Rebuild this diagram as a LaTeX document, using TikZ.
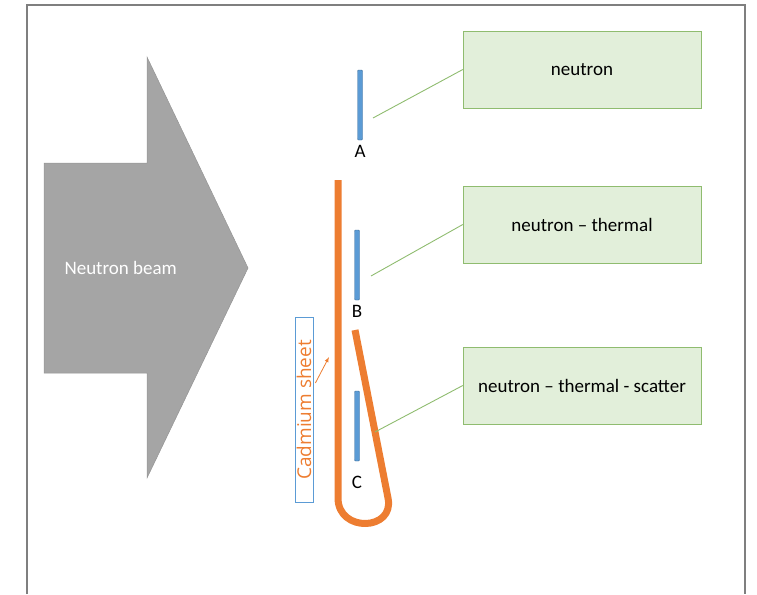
\documentclass[tikz,border=0pt]{standalone}
\usepackage{fontspec}
\setmainfont{Carlito}
\newfontfamily\sheetfont{Open Sans}
\usepackage{xcolor}
\usetikzlibrary{shapes,arrows,positioning,calc}

\definecolor{beamgray}{HTML}{A5A5A5}
\definecolor{cdorange}{HTML}{ED7D31}
\definecolor{detblue}{HTML}{5B9BD5}
\definecolor{detedge}{HTML}{41719C}
\definecolor{boxgreen}{HTML}{E2EFDA}
\definecolor{boxedge}{HTML}{8FBC6F}
\definecolor{frame}{HTML}{7F7F7F}

\begin{document}
\begin{tikzpicture}[
    x=1pt, y=-1pt,
    font=\fontsize{19}{22}\selectfont,
    label/.style={draw=boxedge, fill=boxgreen, rectangle, minimum width=238pt, minimum height=77pt, align=center},
    detector/.style={rectangle, fill=detblue, draw=detedge, line width=0.4pt, minimum width=5pt, minimum height=70pt, inner sep=0pt, rounded corners=1pt},
    link/.style={draw=boxedge, line width=0.9pt},
    arrow/.style={-latex, cdorange, line width=0.8pt}
]
\useasboundingbox (0,0) rectangle (757,594);

% Frame
\draw[frame, line width=1.2pt] (27,594) -- (27,5) -- (745,5) -- (745,594);

% Beam arrow
\fill[beamgray, draw=beamgray!90!black, line width=0.5pt] (44,163) -- (147,163) -- (147,57) -- (248,268) -- (147,478) -- (147,373) -- (44,373) -- cycle;
\node[white, anchor=west] (beam) at (61,268) {Neutron beam};

% Detectors
\node[detector] (detA) at (360,105) {};
\node[detector] (detB) at (357,265) {};
\node[detector] (detC) at (357,426) {};
\node[below=2pt of detA] (nameA) {A};
\node[below=2pt of detB] (nameB) {B};
\node[below=11pt of detC] (nameC) {C};

% Cadmium sheet
\draw[cdorange, line width=7pt, line join=round] (338,180) -- (338,498) .. controls (338,533) and (395,531) .. (388,498) -- (355,330);
\node[draw=detblue, line width=0.8pt, rotate=90, minimum width=185pt, minimum height=18pt, inner sep=0pt, text=cdorange, font=\sheetfont\fontsize{19}{20}\selectfont] (cadmium) at (304,410) {Cadmium sheet};
\coordinate (cdtip) at (329,357);
\draw[arrow] ([xshift=2pt,yshift=27pt]cadmium.south) -- (cdtip);

% Labels (Right side)
\node[label] (neutron) at (582,69.5) {neutron};
\node[label] (thermal) at (582,224.5) {neutron -- thermal};
\node[label] (scatter) at (582,385.5) {neutron -- thermal - scatter};

% Links
\coordinate (linkA) at (373,118);
\coordinate (linkB) at (371,276);
\coordinate (linkC) at (375,432);
\draw[link] (linkA) -- (neutron.west);
\draw[link] (linkB) -- (thermal.west);
\draw[link] (linkC) -- (scatter.west);

\end{tikzpicture}
\end{document}
